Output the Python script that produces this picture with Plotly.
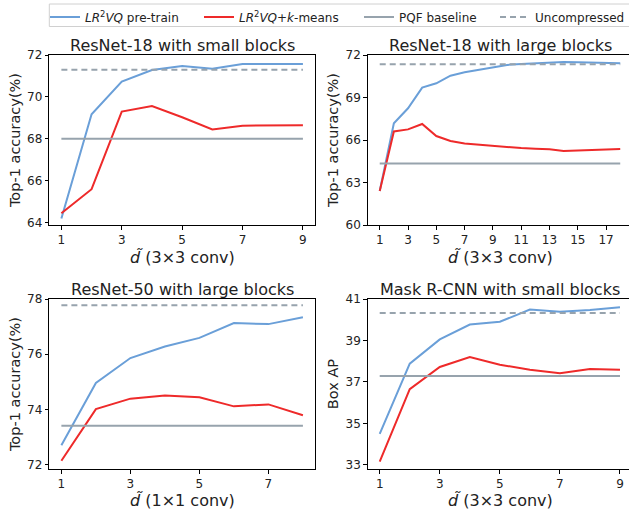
import plotly.graph_objects as go

W, H = 629, 513

# ---------------- data ----------------
x_r18s = [1, 2, 3, 4, 5, 6, 7, 8, 9]
pre_r18s = [64.2, 69.17, 70.73, 71.28, 71.48, 71.35, 71.57, 71.57, 71.57]
km_r18s = [64.45, 65.6, 69.3, 69.57, 69.03, 68.45, 68.63, 68.64, 68.65]
pqf_r18s = 68.0
unc_r18s = 71.3

x_r18l = list(range(1, 19))
pre_r18l = [62.4, 67.18, 68.24, 69.7, 70.0, 70.54, 70.78, 70.94, 71.1, 71.3,
            71.36, 71.41, 71.46, 71.5, 71.48, 71.46, 71.44, 71.41]
km_r18l = [62.4, 66.6, 66.75, 67.13, 66.28, 65.93, 65.76, 65.67, 65.58, 65.48,
           65.43, 65.39, 65.34, 65.22, 65.25, 65.3, 65.34, 65.36]
pqf_r18l = 64.35
unc_r18l = 71.34

x_r50l = [1, 2, 3, 4, 5, 6, 7, 8]
pre_r50l = [72.7, 74.96, 75.86, 76.28, 76.59, 77.13, 77.09, 77.34]
km_r50l = [72.14, 74.01, 74.39, 74.5, 74.44, 74.11, 74.18, 73.79]
pqf_r50l = 73.41
unc_r50l = 77.77

x_mask = [1, 2, 3, 4, 5, 6, 7, 8, 9]
pre_mask = [34.49, 37.88, 39.05, 39.77, 39.9, 40.49, 40.39, 40.47, 40.6]
km_mask = [33.16, 36.65, 37.72, 38.2, 37.83, 37.59, 37.42, 37.62, 37.59]
pqf_mask = 37.29
unc_mask = 40.33

titles = ["ResNet-18 with small blocks", "ResNet-18 with large blocks",
          "ResNet-50 with large blocks", "Mask R-CNN with small blocks"]
ytitles = ["Top-1 accuracy(%)", "Top-1 accuracy(%)", "Top-1 accuracy(%)", "Box AP"]
xtitles = ["<i>d\u0303</i> (3\u00d73 conv)", "<i>d\u0303</i> (3\u00d73 conv)",
           "<i>d\u0303</i> (1\u00d71 conv)", "<i>d\u0303</i> (3\u00d73 conv)"]
xticks = [[1, 3, 5, 7, 9], [1, 3, 5, 7, 9, 11, 13, 15, 17], [1, 3, 5, 7], [1, 3, 5, 7, 9]]
yticks = [[64, 66, 68, 70, 72], [60, 63, 66, 69, 72], [72, 74, 76, 78], [33, 35, 37, 39, 41]]

legend_names = ["<i>LR</i><sup>2</sup><i>VQ</i> pre-train",
                "<i>LR</i><sup>2</sup><i>VQ</i>+<i>k</i>-means",
                "PQF baseline", "Uncompressed"]

BLUE = "#6a9fd8"
RED = "#ee2a2a"
GRAY = "#97a3ad"

panels = [
    (x_r18s, pre_r18s, km_r18s, pqf_r18s, unc_r18s),
    (x_r18l, pre_r18l, km_r18l, pqf_r18l, unc_r18l),
    (x_r50l, pre_r50l, km_r50l, pqf_r50l, unc_r50l),
    (x_mask, pre_mask, km_mask, pqf_mask, unc_mask),
]

# pixel layout of the axes boxes (left, right, top, bottom)
boxes = [(49.3, 315, 55, 225), (367.7, 629, 55, 225),
         (49.3, 315, 299, 469), (367.7, 629, 299, 469)]
title_cx = [182, 500, 182, 500]
xtitle_cx = [182, 500, 182, 500]
xtitle_cy = [257, 257, 500, 500]
xranges = [[0.6, 9.4], [0.15, 18.62], [0.65, 8.35], [0.6, 9.3]]
yranges = [[63.89, 72.0], [60.0, 72.0], [71.84, 78.0], [32.8, 41.0]]
legend_ids = ["legend", "legend2", "legend3", "legend4"]
legend_px = [45, 199, 359, 495]

fig = go.Figure()
FONT = "DejaVu Sans"

for i, (xs, pre, km, pqf, unc) in enumerate(panels):
    ax = "" if i == 0 else str(i + 1)
    xa, ya = "x" + ax, "y" + ax
    show = i == 0
    fig.add_trace(go.Scatter(x=xs, y=pre, mode="lines", line=dict(color=BLUE, width=2),
                             name=legend_names[0], showlegend=show, legend=legend_ids[0],
                             xaxis=xa, yaxis=ya))
    fig.add_trace(go.Scatter(x=xs, y=km, mode="lines", line=dict(color=RED, width=2),
                             name=legend_names[1], showlegend=show, legend=legend_ids[1],
                             xaxis=xa, yaxis=ya))
    fig.add_trace(go.Scatter(x=[xs[0], xs[-1]], y=[pqf, pqf], mode="lines",
                             line=dict(color=GRAY, width=2),
                             name=legend_names[2], showlegend=show, legend=legend_ids[2],
                             xaxis=xa, yaxis=ya))
    fig.add_trace(go.Scatter(x=[xs[0], xs[-1]], y=[unc, unc], mode="lines",
                             line=dict(color=GRAY, width=2, dash="6px,4px"),
                             name=legend_names[3], showlegend=show, legend=legend_ids[3],
                             xaxis=xa, yaxis=ya))

    l, r, t, b = boxes[i]
    axis_common = dict(showline=True, linecolor="black", linewidth=1, mirror=True,
                       ticks="outside", ticklen=3.5, tickcolor="black", showgrid=False,
                       zeroline=False, automargin=False, ticklabeloverflow="allow",
                       tickfont=dict(family=FONT, size=12, color="#222"))
    fig.layout["xaxis" + ax] = dict(
        domain=[l / W, r / W], anchor=ya, range=xranges[i],
        tickvals=xticks[i], **axis_common)
    fig.layout["yaxis" + ax] = dict(
        domain=[1 - b / H, 1 - t / H], anchor=xa, range=yranges[i],
        tickvals=yticks[i], title=dict(text=ytitles[i], standoff=3,
                                       font=dict(family=FONT, size=14.5, color="#222")),
        **axis_common)
    fig.add_annotation(text=titles[i], x=title_cx[i] / W,
                       y=1 - (t - 10) / H, xref="paper", yref="paper",
                       xanchor="center", yanchor="middle", showarrow=False,
                       font=dict(family=FONT, size=16, color="#222"))
    fig.add_annotation(text=xtitles[i], x=xtitle_cx[i] / W,
                       y=1 - xtitle_cy[i] / H, xref="paper", yref="paper",
                       xanchor="center", yanchor="middle", showarrow=False,
                       font=dict(family=FONT, size=16, color="#222"))

# legend frame spanning to the right edge like the reference
fig.add_shape(type="rect", xref="paper", yref="paper",
              x0=49.3 / W, x1=640 / W, y0=1 - 26.5 / H, y1=1 - 4 / H,
              line=dict(color="#d0d0d0", width=1), fillcolor="rgba(0,0,0,0)", layer="above")

layout_legends = {}
for lid, px in zip(legend_ids, legend_px):
    layout_legends[lid] = dict(orientation="h", x=px / W, y=1 - 2.5 / H,
                               xanchor="left", yanchor="top",
                               borderwidth=0, bgcolor="rgba(0,0,0,0)",
                               font=dict(family=FONT, size=12, color="#222"),
                               itemwidth=30)

fig.update_layout(
    width=W, height=H, margin=dict(l=0, r=0, t=0, b=0, autoexpand=False),
    paper_bgcolor="white", plot_bgcolor="white",
    font=dict(family=FONT, color="#222"),
    **layout_legends,
)

fig.write_html("out.html", config={"displayModeBar": False},
               post_script="document.body.style.margin='0px';document.body.style.overflow='hidden';")
